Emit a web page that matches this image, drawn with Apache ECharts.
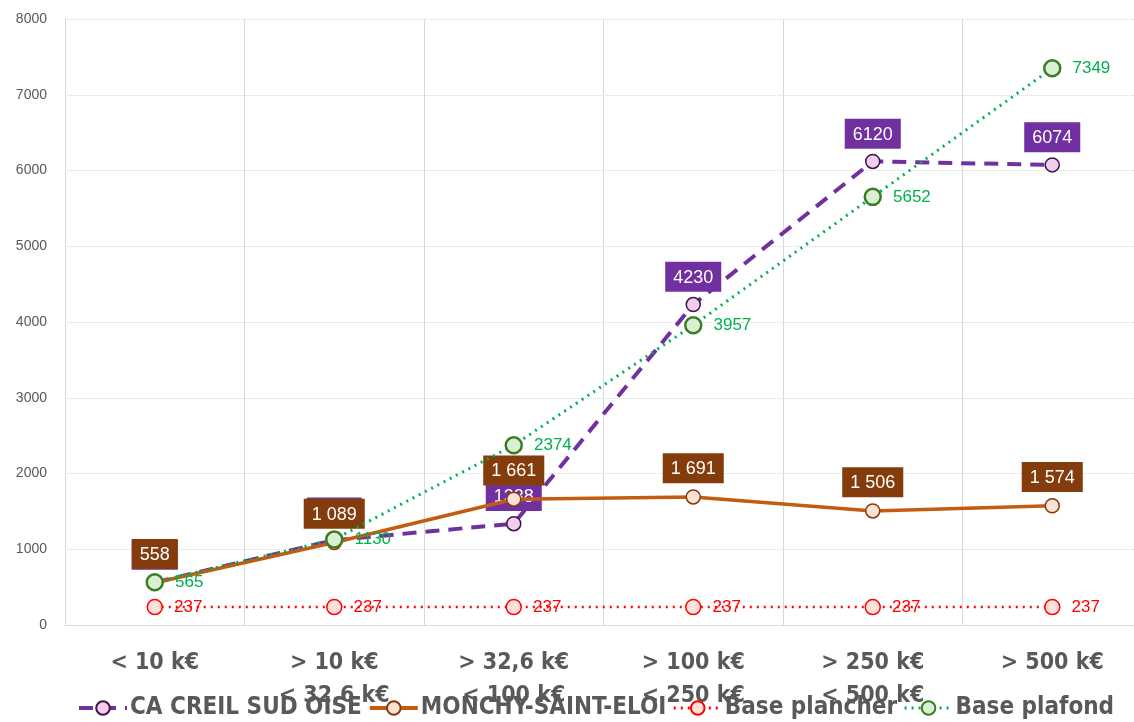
<!DOCTYPE html>
<html>
<head>
<meta charset="utf-8">
<script src="https://cdn.jsdelivr.net/npm/echarts@6/dist/echarts.min.js"></script>
<style>
html, body { margin: 0; padding: 0; background: #fff; }
#chart { width: 1134px; height: 722px; }
</style>
</head>
<body>
<div id="chart"></div>
<script>
var categories = ['< 10 k€', '> 10 k€\n< 32,6 k€', '> 32,6 k€\n< 100 k€', '> 100 k€\n< 250 k€', '> 250 k€\n< 500 k€', '> 500 k€'];
var creilData = [562, 1120, 1338, 4230, 6120, 6074];
var monchyData = [558, 1089, 1661, 1691, 1506, 1574];
var plancherData = [237, 237, 237, 237, 237, 237];
var plafondData = [565, 1130, 2374, 3957, 5652, 7349];
var yTicks = [0, 8000, 1000];

function spaced(v) {
    return String(v).replace(/\B(?=(\d{3})+(?!\d))/g, ' ');
}

var chart = echarts.init(document.getElementById('chart'));
var font = '"Liberation Sans Narrow", "DejaVu Sans Condensed", "Liberation Sans", Arial, sans-serif';
var option = {
    backgroundColor: '#fff',
    animation: false,
    grid: { left: 65, width: 1077, top: 19, bottom: 97, outerBoundsMode: 'none', containLabel: false },
    legend: {
        bottom: -3,
        left: 72,
        itemWidth: 48,
        itemHeight: 17,
        itemGap: 6,
        data: [
            { name: 'CA CREIL SUD OISE', lineStyle: { width: 4 } },
            { name: 'MONCHY-SAINT-ELOI', lineStyle: { width: 4 } },
            { name: 'Base plancher', lineStyle: { width: 3 } },
            { name: 'Base plafond', lineStyle: { width: 3 } }
        ],
        textStyle: { fontFamily: font, fontSize: 24, fontWeight: 'bold', color: '#595959', padding: [0, 0, 0, -2] }
    },
    xAxis: {
        type: 'category',
        data: categories,
        boundaryGap: true,
        axisLine: { lineStyle: { color: '#d9d9d9' } },
        axisTick: { show: false },
        splitLine: { show: true, lineStyle: { color: '#d9d9d9', width: 1 } },
        axisLabel: {
            fontFamily: font, fontSize: 23, fontWeight: 'bold', color: '#595959',
            margin: 22, lineHeight: 33, interval: 0
        }
    },
    yAxis: {
        type: 'value',
        min: yTicks[0], max: yTicks[1], interval: yTicks[2],
        axisLine: { show: true, lineStyle: { color: '#d9d9d9' } },
        axisTick: { show: false },
        splitLine: { lineStyle: { color: '#d9d9d9', type: 'dotted' } },
        axisLabel: {
            formatter: function (v) { return String(v); },
            fontFamily: 'Liberation Sans, Arial', fontSize: 14, color: '#595959', margin: 18
        }
    },
    series: [{
        name: 'CA CREIL SUD OISE',
        type: 'line',
        data: creilData,
        symbol: 'circle',
        symbolSize: 14,
        lineStyle: { color: '#7030A0', width: 4, type: [14, 9] },
        itemStyle: { color: '#f2cdee', borderColor: '#3c1548', borderWidth: 1.5 },
        label: {
            show: true, position: 'top', distance: 5,
            fontFamily: 'Liberation Sans, Arial', fontSize: 18, color: '#fff',
            backgroundColor: '#7030A0', padding: [7, 8, 5, 8]
        },
        z: 2
    }, {
        name: 'MONCHY-SAINT-ELOI',
        type: 'line',
        data: monchyData,
        symbol: 'circle',
        symbolSize: 14,
        lineStyle: { color: '#C55A11', width: 3.5 },
        itemStyle: { color: '#fbe2d5', borderColor: '#843C0C', borderWidth: 1.5 },
        label: {
            show: true, position: 'top', distance: 6,
            formatter: function (p) { return spaced(p.value); },
            fontFamily: 'Liberation Sans, Arial', fontSize: 18, color: '#fff',
            backgroundColor: '#843C0C', padding: [7, 8, 5, 8]
        },
        z: 3
    }, {
        name: 'Base plancher',
        type: 'line',
        data: plancherData,
        symbol: 'circle',
        symbolSize: 15,
        lineStyle: { color: '#FF0000', width: 2.5, type: [2, 5] },
        itemStyle: { color: '#fde2dc', borderColor: '#FF0000', borderWidth: 1.5 },
        label: {
            show: true, position: 'right', distance: 11,
            fontFamily: 'Liberation Sans, Arial', fontSize: 17, color: '#FF0000'
        },
        z: 4
    }, {
        name: 'Base plafond',
        type: 'line',
        data: plafondData,
        symbol: 'circle',
        symbolSize: 16,
        lineStyle: { color: '#00B050', width: 3, type: [2, 5] },
        itemStyle: { color: '#d9f0d3', borderColor: '#3a7d22', borderWidth: 2.5 },
        label: {
            show: true, position: 'right', distance: 11,
            fontFamily: 'Liberation Sans, Arial', fontSize: 17, color: '#00B050'
        },
        z: 5
    }]
};
chart.setOption(option);
window.addEventListener('resize', function () {
    chart.resize();
});
</script>
</body>
</html>
